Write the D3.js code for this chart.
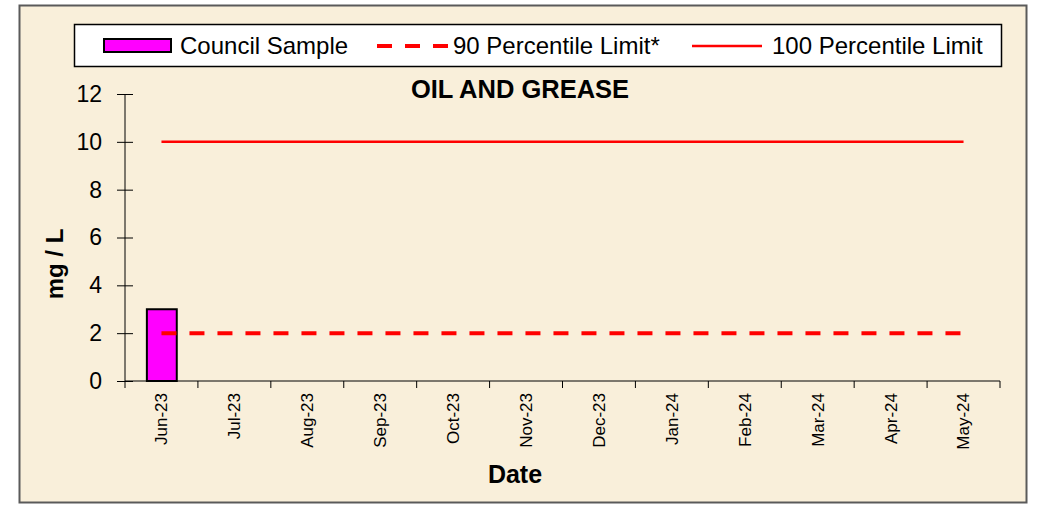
<!DOCTYPE html>
<html>
<head>
<meta charset="utf-8">
<script src="https://cdn.jsdelivr.net/npm/d3@7"></script>
<style>
  body { margin: 0; background: #fff; }
  svg text { font-family: "Liberation Sans", Arial, sans-serif; }
</style>
</head>
<body>
<script>
// chart data
var months = ["Jun-23", "Jul-23", "Aug-23", "Sep-23", "Oct-23", "Nov-23",
              "Dec-23", "Jan-24", "Feb-24", "Mar-24", "Apr-24", "May-24"];
var councilSample = [3, null, null, null, null, null, null, null, null, null, null, null];
var limit90 = [2, 2, 2, 2, 2, 2, 2, 2, 2, 2, 2, 2];
var limit100 = [10, 10, 10, 10, 10, 10, 10, 10, 10, 10, 10, 10];
var yTicks = [0, 2, 4, 6, 8, 10, 12];

var W = 1037, H = 505;
var margin = {top: 94, right: 37, bottom: 124, left: 125},
    width = 1000 - margin.left,
    height = 381 - margin.top;

var svg = d3.select("body").append("svg")
    .attr("width", W)
    .attr("height", H);

// background panel
svg.append("rect")
    .attr("x", 19.5).attr("y", 5.5)
    .attr("width", 1007).attr("height", 497)
    .attr("fill", "#f9efda")
    .attr("stroke", "#5a5a5a")
    .attr("stroke-width", 2);

var g = svg.append("g")
    .attr("transform", "translate(" + margin.left + "," + margin.top + ")");

var x = d3.scaleBand().domain(months).range([0, width]);
var y = d3.scaleLinear().domain([0, 12]).range([height, 0]);

// bars
g.selectAll(".bar")
    .data(months.filter(function(d, i) { return councilSample[i] != null; }))
  .enter().append("rect")
    .attr("class", "bar")
    .attr("x", function(d) { return x(d) + x.bandwidth() * 0.3; })
    .attr("width", x.bandwidth() * 0.41)
    .attr("y", function(d) { return y(councilSample[months.indexOf(d)]); })
    .attr("height", function(d) { return height - y(councilSample[months.indexOf(d)]); })
    .attr("fill", "#ff00ff")
    .attr("stroke", "#000")
    .attr("stroke-width", 2);

var line = function(vals) {
  return d3.line()
    .x(function(d, i) { return x(months[i]) + x.bandwidth() / 2; })
    .y(function(d) { return y(d); })(vals);
};

g.append("path")
    .attr("d", line(limit90))
    .attr("fill", "none")
    .attr("stroke", "#ff0000")
    .attr("stroke-width", 4)
    .attr("stroke-dasharray", "15,13");

g.append("path")
    .attr("d", line(limit100))
    .attr("fill", "none")
    .attr("stroke", "#ff0000")
    .attr("stroke-width", 2.5);

// y axis
var yAxis = g.append("g")
    .call(d3.axisLeft(y).tickValues(yTicks).tickSize(8).tickPadding(15));
yAxis.select(".domain").attr("d", "M0," + height + "V0");
yAxis.selectAll(".tick line").attr("x2", 8).attr("x1", -8);
yAxis.selectAll("text")
    .style("font-size", "23px")
    .attr("fill", "#000");

// x axis
var xAxis = g.append("g")
    .attr("transform", "translate(0," + height + ")")
    .call(d3.axisBottom(x).tickSize(0).tickPadding(0));
xAxis.select(".domain").attr("d", "M0,0H" + width);
xAxis.selectAll(".tick text")
    .attr("transform", "rotate(-90)")
    .attr("text-anchor", "end")
    .attr("x", -12)
    .attr("y", 0)
    .attr("dy", "0.35em")
    .style("font-size", "17px")
    .attr("fill", "#000");
// tick marks at band edges
xAxis.selectAll(".edge")
    .data(months.concat(["end"]))
  .enter().append("line")
    .attr("x1", function(d, i) { return i < months.length ? x(d) : width; })
    .attr("x2", function(d, i) { return i < months.length ? x(d) : width; })
    .attr("y1", 0).attr("y2", 7)
    .attr("stroke", "#000");

// titles
svg.append("text")
    .attr("x", 520).attr("y", 98)
    .attr("text-anchor", "middle")
    .style("font-size", "25.5px")
    .style("font-weight", "bold")
    .text("OIL AND GREASE");

svg.append("text")
    .attr("transform", "translate(63,264) rotate(-90)")
    .attr("text-anchor", "middle")
    .style("font-size", "24px")
    .style("font-weight", "bold")
    .text("mg / L");

svg.append("text")
    .attr("x", 515).attr("y", 483)
    .attr("text-anchor", "middle")
    .style("font-size", "25px")
    .style("font-weight", "bold")
    .text("Date");

// legend
var leg = svg.append("g");
leg.append("rect")
    .attr("x", 74.5).attr("y", 24.5)
    .attr("width", 927).attr("height", 42)
    .attr("fill", "#fff")
    .attr("stroke", "#000")
    .attr("stroke-width", 1.5);

leg.append("rect")
    .attr("x", 104).attr("y", 39)
    .attr("width", 67).attr("height", 13)
    .attr("fill", "#ff00ff")
    .attr("stroke", "#000")
    .attr("stroke-width", 2);
leg.append("text").attr("x", 180).attr("y", 54)
    .style("font-size", "24px").text("Council Sample");

leg.append("line")
    .attr("x1", 377).attr("x2", 451).attr("y1", 46).attr("y2", 46)
    .attr("stroke", "#ff0000").attr("stroke-width", 4)
    .attr("stroke-dasharray", "15,13");
leg.append("text").attr("x", 453).attr("y", 54)
    .style("font-size", "24px").text("90 Percentile Limit*");

leg.append("line")
    .attr("x1", 692).attr("x2", 762).attr("y1", 46).attr("y2", 46)
    .attr("stroke", "#ff0000").attr("stroke-width", 2.5);
leg.append("text").attr("x", 772).attr("y", 54)
    .style("font-size", "24px").text("100 Percentile Limit");
</script>
</body>
</html>
